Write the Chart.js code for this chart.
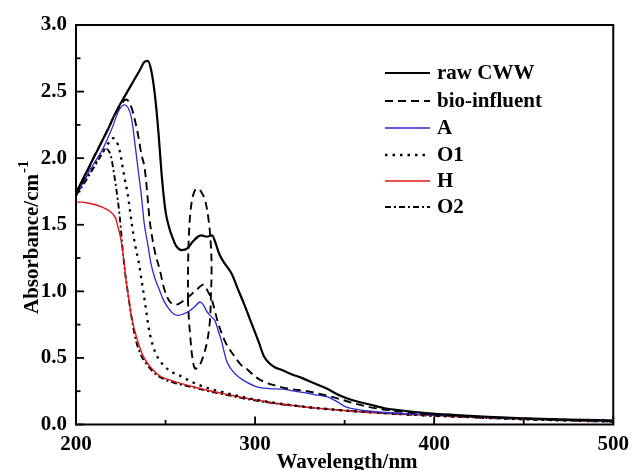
<!DOCTYPE html>
<html>
<head>
<meta charset="utf-8">
<script src="https://cdn.jsdelivr.net/npm/chart.js@4.4.0/dist/chart.umd.min.js"></script>
<style>
  html, body { margin: 0; padding: 0; background: #fff; }
  #wrap { width: 636px; height: 470px; position: relative; }
</style>
</head>
<body>
<div id="wrap"><canvas id="c" width="636" height="470"></canvas></div>
<script>
// ---- data ----
const xTickLabels = [200, 300, 400, 500];
const yTickLabels = [0.0, 0.5, 1.0, 1.5, 2.0, 2.5, 3.0];
const seriesNames = ["raw CWW", "bio-influent", "A", "O1", "H", "O2"];

const wlRaw  = [200,203,206,209,212,215,218,221,224,227,230,233,236,238,240,242,244,246,248,250,252,254,256,259,262,265,268,270,273,276,278,280,283,287,290,294,298,302,305,308,311,315,320,326,333,340,347,355,364,373,382,397,412,430,450,475,500];
const absRaw = [1.74,1.82,1.90,1.98,2.06,2.14,2.22,2.31,2.39,2.46,2.53,2.60,2.67,2.72,2.73,2.66,2.48,2.20,1.85,1.60,1.48,1.40,1.34,1.31,1.32,1.37,1.41,1.42,1.41,1.42,1.36,1.28,1.21,1.13,1.03,0.90,0.76,0.62,0.51,0.46,0.43,0.41,0.38,0.35,0.31,0.27,0.22,0.18,0.15,0.12,0.105,0.084,0.071,0.058,0.047,0.037,0.030];

const wlBio  = [200,205,210,215,220,224,228,231,233,235,236.5,238,239,240,241,242,244,247,249,252,256,260,264.7,268,271,274,276,279.4,283,285,288.6,292,296,300,305,312,318,329,336,345,355,364,373,391,412,430,450,475,500];
const absBio = [1.72,1.86,2.01,2.14,2.28,2.38,2.44,2.38,2.28,2.15,2.03,1.95,1.85,1.70,1.55,1.45,1.30,1.15,1.03,0.93,0.90,0.93,0.98,1.02,1.05,0.99,0.93,0.76,0.63,0.58,0.51,0.45,0.41,0.36,0.32,0.29,0.27,0.25,0.23,0.20,0.16,0.13,0.11,0.084,0.066,0.055,0.045,0.035,0.028];

// closed dashed loop drawn by the bio-influent trace near 262-276 nm
const wlBioLoop  = [262.5,262.6,263,263.8,265,266.5,268.4,270.2,272,274,275.3,275.7,275.3,274.8,273.2,271,268.8,266.5,265,263.8,263,262.5];
const absBioLoop = [0.93,1.20,1.41,1.58,1.70,1.76,1.77,1.74,1.69,1.54,1.35,1.16,0.95,0.78,0.62,0.51,0.44,0.42,0.50,0.66,0.80,0.93];

const wlA  = [200,205,210,215,220,224,227,229,231,233,235,236.5,238,240,242,244,246.3,249,251.8,254.5,257.4,260,263,266,269.3,271,273,275.5,277.6,279.5,281.2,284,287,290.5,295,301.5,308,316,322,329,335,340,346,351,358.5,373,390,410,430,450,475,500];
const absA = [1.72,1.84,1.96,2.07,2.22,2.36,2.40,2.38,2.30,2.10,1.88,1.72,1.52,1.36,1.20,1.10,1.02,0.93,0.87,0.83,0.82,0.83,0.85,0.88,0.92,0.90,0.85,0.81,0.78,0.70,0.63,0.48,0.41,0.36,0.32,0.28,0.27,0.265,0.25,0.235,0.22,0.21,0.17,0.13,0.11,0.09,0.078,0.066,0.053,0.042,0.033,0.026];

const wlO1  = [200,205,210,215,218,220.6,222.5,224.3,227,229,231,233,235,237,238.5,240.8,243,245.4,250,254,257.4,264.7,272,280,292,305,318,330,355,391,412,450,500];
const absO1 = [1.72,1.84,1.95,2.05,2.11,2.15,2.13,2.06,1.86,1.72,1.52,1.35,1.22,1.05,0.92,0.71,0.59,0.51,0.43,0.39,0.37,0.32,0.28,0.25,0.21,0.175,0.15,0.13,0.10,0.071,0.059,0.039,0.021];

const wlH  = [200,203,207.7,211,215,218,220.6,222.4,223.3,224.3,225.2,226,227,228,229.5,230.7,232.5,234.4,237,239.9,243,246.3,250,255.5,265,274,283,292,305,318,329,355,391,412,450,500];
const absH = [1.67,1.67,1.66,1.65,1.63,1.61,1.58,1.54,1.49,1.44,1.38,1.31,1.20,1.08,0.94,0.83,0.72,0.63,0.53,0.46,0.41,0.37,0.345,0.32,0.285,0.255,0.23,0.205,0.175,0.148,0.13,0.10,0.072,0.06,0.04,0.022];

const wlO2  = [200,205,210,214,216.9,218.5,219.6,221.5,223.3,224.5,225.5,226.5,228,229.5,230.7,233.5,236,239,242,246.3,250,255.5,265,274,283,292,305,318,329,355,391,412,450,500];
const absO2 = [1.72,1.82,1.93,2.02,2.07,2.05,2.01,1.86,1.69,1.55,1.40,1.25,1.08,0.94,0.83,0.63,0.53,0.46,0.41,0.36,0.335,0.31,0.28,0.25,0.225,0.20,0.17,0.146,0.13,0.10,0.071,0.059,0.039,0.021];

// ---- helpers ----
const pts = (xs, ys) => xs.map((x, i) => ({ x: x, y: ys[i] }));
const FONT = "'Liberation Serif', 'Times New Roman', serif";

function ds(label, xs, ys, color, width, dash, extra) {
  return Object.assign({
    label: label,
    data: pts(xs, ys),
    borderColor: color,
    backgroundColor: color,
    borderWidth: width,
    borderDash: dash,
    pointRadius: 0,
    fill: false,
    tension: 0,
    cubicInterpolationMode: 'monotone'
  }, extra || {});
}

const datasets = [
  ds(seriesNames[0], wlRaw, absRaw, '#000000', 2.2, []),
  ds(seriesNames[1], wlBio, absBio, '#000000', 1.9, [8, 5]),
  ds(seriesNames[2], wlA, absA, '#2a2ad8', 1.3, []),
  ds(seriesNames[3], wlO1, absO1, '#000000', 2.3, [2.5, 5]),
  ds(seriesNames[4], wlH, absH, '#e0141a', 1.4, []),
  ds(seriesNames[5], wlO2, absO2, '#000000', 1.9, [6, 3, 2, 3]),
  ds('bio-influent loop', wlBioLoop, absBioLoop, '#000000', 1.9, [8, 5],
     { cubicInterpolationMode: 'default', tension: 0.35, isLoop: true })
];

const isMajorX = v => xTickLabels.some(t => Math.abs(t - v) < 1e-6);
const isMajorY = v => yTickLabels.some(t => Math.abs(t - v) < 1e-6);

// frame, inward ticks, axis titles, legend
const decor = {
  id: 'decor',
  afterDatasetsDraw(chart) {
    const ctx = chart.ctx;
    const a = chart.chartArea;
    const xs = chart.scales.x, ys = chart.scales.y;
    ctx.save();
    ctx.strokeStyle = '#000';
    ctx.lineWidth = 2;
    ctx.setLineDash([]);
    ctx.strokeRect(a.left, a.top, a.right - a.left, a.bottom - a.top);
    ctx.lineWidth = 1.8;
    xs.ticks.forEach(t => {
      const px = xs.getPixelForValue(t.value);
      const len = isMajorX(t.value) ? 8 : 4.5;
      ctx.beginPath(); ctx.moveTo(px, a.bottom); ctx.lineTo(px, a.bottom - len); ctx.stroke();
    });
    ys.ticks.forEach(t => {
      const py = ys.getPixelForValue(t.value);
      const len = isMajorY(t.value) ? 8 : 4.5;
      ctx.beginPath(); ctx.moveTo(a.left, py); ctx.lineTo(a.left + len, py); ctx.stroke();
    });

    // axis titles
    ctx.fillStyle = '#000';
    ctx.font = 'bold 21px ' + FONT;
    ctx.textAlign = 'center';
    ctx.textBaseline = 'alphabetic';
    ctx.fillText('Wavelength/nm', 347, 468);

    ctx.save();
    ctx.translate(38, 314);
    ctx.rotate(-Math.PI / 2);
    ctx.textAlign = 'left';
    ctx.font = 'bold 21px ' + FONT;
    const main = 'Absorbance/cm';
    ctx.fillText(main, 0, 0);
    const w = ctx.measureText(main).width;
    ctx.font = 'bold 15px ' + FONT;
    ctx.fillText('-1', w + 1, -10);
    ctx.restore();

    // legend
    const rows = [73, 101, 128, 155, 181, 207];
    const x0 = 385, x1 = 430;
    ctx.textAlign = 'left';
    ctx.textBaseline = 'middle';
    ctx.font = 'bold 21px ' + FONT;
    chart.data.datasets.forEach((d, i) => {
      if (d.isLoop) return;
      const y = rows[i];
      ctx.strokeStyle = d.borderColor;
      ctx.lineWidth = d.borderWidth;
      ctx.setLineDash(d.borderDash);
      ctx.beginPath(); ctx.moveTo(x0, y); ctx.lineTo(x1, y); ctx.stroke();
      ctx.setLineDash([]);
      ctx.fillStyle = '#000';
      ctx.fillText(d.label, 437, y + 1);
    });
    ctx.restore();
  }
};

new Chart(document.getElementById('c'), {
  type: 'line',
  data: { datasets: datasets },
  options: {
    responsive: false,
    animation: false,
    devicePixelRatio: 1,
    parsing: true,
    layout: { padding: { top: 25, right: 16, left: 0, bottom: 0 } },
    plugins: { legend: { display: false }, tooltip: { enabled: false }, title: { display: false } },
    scales: {
      x: {
        type: 'linear', min: 200, max: 500,
        grid: { display: false, drawTicks: false },
        border: { display: false },
        ticks: {
          stepSize: 50, autoSkip: false, maxRotation: 0, padding: 7,
          color: '#000', font: { family: FONT, size: 21, weight: 'bold' },
          callback: v => isMajorX(v) ? String(v) : ''
        },
        afterFit: s => { s.height = 45.5; }
      },
      y: {
        type: 'linear', min: 0, max: 3,
        grid: { display: false, drawTicks: false },
        border: { display: false },
        ticks: {
          stepSize: 0.25, autoSkip: false, padding: 9,
          color: '#000', font: { family: FONT, size: 21, weight: 'bold' },
          callback: v => isMajorY(v) ? v.toFixed(1) : ''
        },
        afterFit: s => { s.width = 76; }
      }
    }
  },
  plugins: [decor]
});
</script>
</body>
</html>
